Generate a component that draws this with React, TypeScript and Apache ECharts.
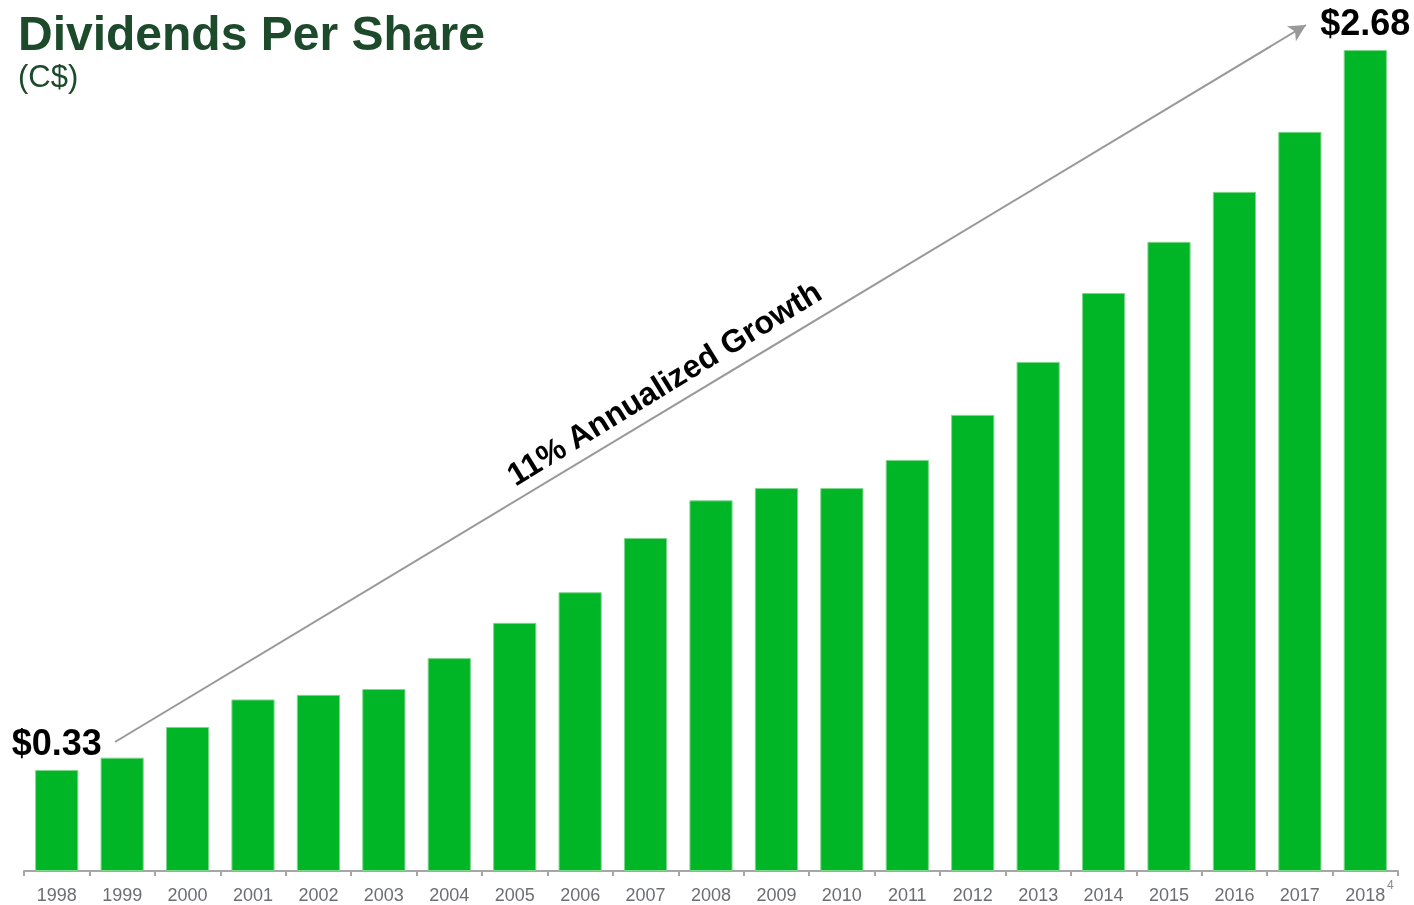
import React, { useEffect, useRef } from "react";
import * as echarts from "echarts";

const years = ["1998","1999","2000","2001","2002","2003","2004","2005","2006","2007","2008","2009","2010","2011","2012","2013","2014","2015","2016","2017","2018"];
const dividends = [0.33,0.37,0.47,0.56,0.575,0.594,0.695,0.81,0.91,1.087,1.21,1.25,1.25,1.342,1.489,1.662,1.887,2.054,2.217,2.413,2.68];
const labelledIdx = [0, 20];
const titleText = "Dividends Per Share";
const subtitleText = "(C$)";
const growthText = "11% Annualized Growth";
const footnote = "4";

const FONT = "'Liberation Sans', Arial, sans-serif";

export default function App() {
  const ref = useRef<HTMLDivElement>(null);
  useEffect(() => {
    if (!ref.current) return;
    const chart = echarts.init(ref.current, null, { renderer: "svg" });
    const barData = dividends.map((v, i) => ({
      value: v,
      label: labelledIdx.includes(i)
        ? { show: true, position: "top", distance: i === 0 ? 9 : 10, formatter: (p: any) => "$" + Number(p.value).toFixed(2), fontSize: 36, fontWeight: "bold", color: "#000", fontFamily: FONT }
        : { show: false },
    }));
    chart.setOption({
      animation: false,
      title: [
        { text: titleText, left: 18, top: 9, padding: 0, textStyle: { fontSize: 48, fontWeight: "bold", color: "#1c4a2b", fontFamily: FONT } },
        { text: subtitleText, left: 18, top: 61, padding: 0, textStyle: { fontSize: 31, fontWeight: "normal", color: "#1c4a2b", fontFamily: FONT } },
      ],
      grid: { left: 24, right: 16, top: 28.6, bottom: 34, containLabel: false },
      xAxis: {
        type: "category",
        data: years,
        axisLine: { lineStyle: { color: "#a6a6a6", width: 2 } },
        axisTick: { show: true, length: 5, lineStyle: { color: "#a6a6a6", width: 2 } },
        axisLabel: { color: "#6b6e73", fontSize: 18, fontFamily: FONT, margin: 15 },
      },
      yAxis: { type: "value", min: 0, max: 2.75, show: false, splitLine: { show: false } },
      series: [
        {
          type: "bar",
          data: barData,
          barWidth: "66%",
          itemStyle: { color: "#00b526", borderColor: "#7fd68c", borderWidth: 1 },
          markLine: {
            silent: true,
            animation: false,
            label: { show: false },
            lineStyle: { color: "#999999", width: 2, type: "solid" },
            symbol: ["none", "arrow"],
            symbolSize: [13, 17],
            data: [[{ x: 115, y: 742 }, { x: 1306, y: 25 }]],
          },
        },
      ],
      graphic: [
        {
          type: "text",
          x: 664,
          y: 383,
          rotation: (31.5 * Math.PI) / 180,
          style: { text: growthText, fontSize: 32, fontWeight: "bold", fill: "#000", fontFamily: FONT, align: "center", verticalAlign: "middle" },
        },
        {
          type: "text",
          x: 1387,
          y: 879,
          style: { text: footnote, fontSize: 12, fill: "#888888", fontFamily: FONT },
        },
      ],
    });
    return () => chart.dispose();
  }, []);
  return <div ref={ref} style={{ position: "fixed", left: 0, top: 0, width: 1414, height: 905 }} />;
}
